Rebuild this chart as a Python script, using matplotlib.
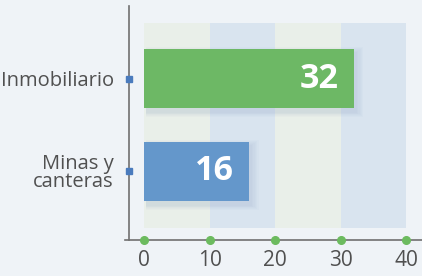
import matplotlib
matplotlib.use('Agg')
import matplotlib.pyplot as plt
from matplotlib.patches import Rectangle

categories = ['Minas y\ncanteras', 'Inmobiliario']
values = [16, 32]
bar_colors = ['#6497cb', '#6db865']
xticks = [0, 10, 20, 30, 40]

bg = '#eff3f7'
plt.rcParams['font.family'] = ['Open Sans', 'DejaVu Sans']

fig = plt.figure(figsize=(4.22, 2.76), dpi=100, facecolor=bg)
ax = fig.add_axes([129/422, 36/276, 293/422, 234/276])
ax.set_facecolor(bg)
ax.set_xlim(-2.29, 42.44)
ax.set_ylim(-0.737, 1.78)

# alternating background bands
band_cols = ['#e9efe9', '#d9e4ef']
for i in range(len(xticks) - 1):
    ax.add_patch(Rectangle((xticks[i], -0.608), xticks[i+1] - xticks[i], 2.205,
                           color=band_cols[i % 2], lw=0, zorder=0))

ypos = list(range(len(categories)))
bh = 0.634
# soft shadow
for k in range(6):
    d = 0.02 * (k + 1)
    ax.barh([y - 0.04 for y in ypos], [v + 0.2 * (k + 1) for v in values], height=bh + d,
            left=0.3, color='#7f95bd', alpha=0.035, lw=0, zorder=1)
ax.barh(ypos, values, height=bh, color=bar_colors, zorder=2)

for y, v in zip(ypos, values):
    ax.annotate(str(v), (v, y), xytext=(-11, 0), textcoords='offset points',
                ha='right', va='center', color='white', fontsize=24.5, fontweight='bold', zorder=3)

for s in ['top', 'right']:
    ax.spines[s].set_visible(False)
for s in ['left', 'bottom']:
    ax.spines[s].set_color('#707070')
    ax.spines[s].set_linewidth(1.2)
ax.spines['bottom'].set_visible(False)
ax.plot([-2.9, 42.44], [-0.737, -0.737], color='#707070', lw=1.2, clip_on=False, zorder=4)

ax.set_xticks(xticks)
ax.set_yticks(ypos)
ax.set_yticklabels(categories, fontsize=14.5, color='#505050', linespacing=0.9,
                   multialignment='right')
ax.tick_params(axis='both', length=0)
ax.tick_params(axis='x', labelsize=15, labelcolor='#505050', pad=7)
ax.tick_params(axis='y', pad=11)

ax.plot(xticks, [-0.737] * len(xticks), 'o', color='#6cbb5f', ms=5.5, clip_on=False, zorder=5)
ax.plot([-2.29] * len(ypos), ypos, 's', color='#4a7bbd', ms=5, clip_on=False, zorder=5)

fig.savefig('out.png', dpi=100, facecolor=bg)
